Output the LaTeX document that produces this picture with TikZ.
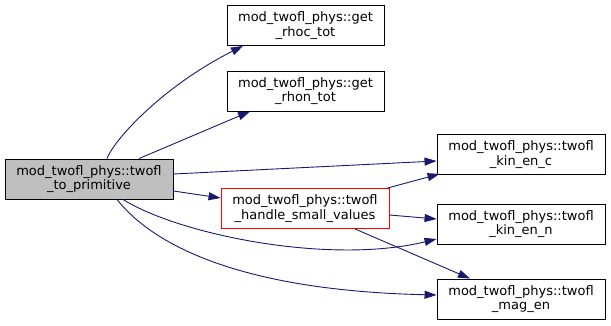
\documentclass[tikz,border=0pt]{standalone}
\usepackage{fontspec}
\setmainfont{DejaVu Sans}
\usetikzlibrary{arrows.meta}

\begin{document}
\begin{tikzpicture}[x=1pt, y=-1pt,
    fnbox/.style={draw=borderColour, line width=0.9pt, align=center, inner sep=0pt,
        minimum width=168pt, minimum height=40pt, font=\fontsize{13}{14.5}\selectfont},
    call/.style={draw=edgeColour, line width=0.9pt, -{Triangle[length=12pt,width=8pt]}}]

    \definecolor{borderColour}{HTML}{000000}
    \definecolor{fillColourMain}{HTML}{BFBFBF}
    \definecolor{borderColourRed}{HTML}{FF0000}
    \definecolor{edgeColour}{HTML}{191970}

    \useasboundingbox (0,0) rectangle (611,325);

    % Caller and the helper it calls
    \node[fnbox, fill=fillColourMain] (primitive) at (89,179) {mod\_twofl\_phys::twofl\\\_to\_primitive};
    \node[fnbox, draw=borderColourRed] (handle) at (305,208.5) {mod\_twofl\_phys::twofl\\\_handle\_small\_values};

    % Called functions
    \node[fnbox, minimum width=157pt] (rhoc) at (305.5,25.5) {mod\_twofl\_phys::get\\\_rhoc\_tot};
    \node[fnbox, minimum width=157pt] (rhon) at (305.5,91) {mod\_twofl\_phys::get\\\_rhon\_tot};
    \node[fnbox] (kinc) at (521,154.5) {mod\_twofl\_phys::twofl\\\_kin\_en\_c};
    \node[fnbox] (kinn) at (521,224) {mod\_twofl\_phys::twofl\\\_kin\_en\_n};
    \node[fnbox] (mag) at (521,299) {mod\_twofl\_phys::twofl\\\_mag\_en};

    % Calls from twofl_to_primitive
    \draw[call] ([xshift=18pt]primitive.north) .. controls (115,138) and (165,85) .. ([xshift=-62.5pt]rhoc.south);
    \draw[call] ([xshift=50pt]primitive.north) -- ([xshift=-55.5pt]rhon.south);
    \draw[call] ([yshift=5pt]primitive.east) -- ([yshift=-6.5pt]kinc.west);
    \draw[call] ([yshift=-12pt]primitive.east) -- ([yshift=10.5pt]handle.west);
    \draw[call] ([xshift=34pt]primitive.south) .. controls (180,235) and (330,265) .. ([yshift=-15pt]kinn.west);
    \draw[call] ([xshift=28pt]primitive.south) .. controls (145,235) and (220,290) .. ([yshift=4pt]mag.west);

    % Calls from twofl_handle_small_values
    \draw[call] ([xshift=-2pt]handle.north east) -- ([xshift=3pt,yshift=1pt]kinc.south west);
    \draw[call] ([yshift=-6.5pt]handle.east) -- ([yshift=5pt]kinn.west);
    \draw[call] ([xshift=50pt]handle.south) -- ([xshift=-51pt]mag.north);

\end{tikzpicture}
\end{document}
